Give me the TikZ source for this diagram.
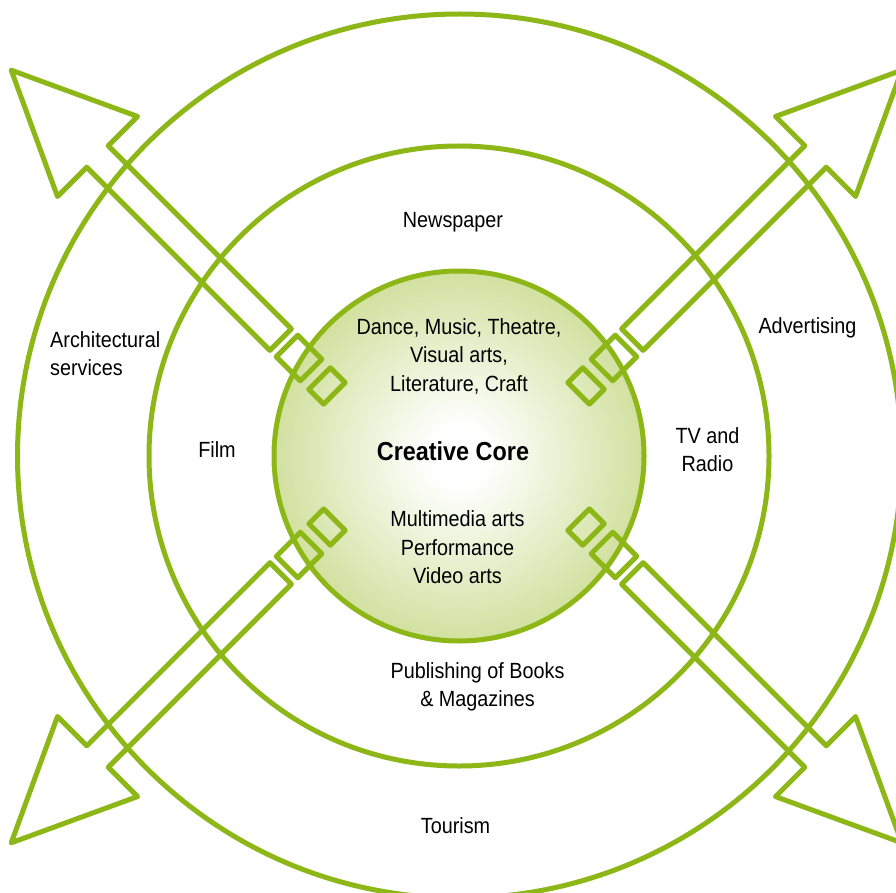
\documentclass[tikz,border=0pt]{standalone}
\usepackage{fontspec}
\setmainfont[FakeStretch=0.9]{Liberation Sans}
\definecolor{lime}{RGB}{141,183,22}
\definecolor{coremid}{RGB}{203,220,145}
\definecolor{coreedge}{RGB}{176,202,96}
\pgfdeclareradialshading{coreshade}{\pgfpoint{0bp}{0bp}}{color(0bp)=(white); color(4bp)=(white); color(28bp)=(coremid); color(50bp)=(coreedge); color(75bp)=(coreedge)}
\newcommand\drawarrowpart{%
  \draw[arrowline] (207,26.5) -- (466,26.5) -- (466,-14.9) -- (588,41.7) -- (466,98.3) -- (466,56.9) -- (207,56.9) -- cycle;
  \draw[arrowline] (164,26.5) -- (198,26.5) -- (198,56.9) -- (164,56.9) -- cycle;
  \draw[arrowline] (131,26.5) -- (152,26.5) -- (152,56.9) -- (131,56.9) -- cycle;
}
\begin{document}
\begin{tikzpicture}[x=1pt,y=-1pt,
  ring/.style={draw=lime, line width=5pt},
  arrowline/.style={draw=lime, line width=5pt, line join=round},
  lbl/.style={inner sep=0pt, font=\fontsize{22}{28.5}\selectfont, align=center, text=black}]
\useasboundingbox (0,0) rectangle (896,893);
\fill[white] (0,0) rectangle (896,893);
% creative core fill
\path[shading=coreshade] (459,456) circle[radius=185];
% rings
\draw[ring] (459.5,456) circle[radius=442];
\draw[ring] (459,456) circle[radius=310];
\draw[ring] (459,456) circle[radius=185];
% arrows
\begin{scope}[shift={(456.5,456.5)}, x={(-0.70711pt,0.70711pt)}, y={(-0.70711pt,-0.70711pt)}]
  \drawarrowpart
\end{scope}
\begin{scope}[shift={(456.5,456.5)}, x={(0.70711pt,0.70711pt)}, y={(0.70711pt,-0.70711pt)}]
  \drawarrowpart
\end{scope}
\begin{scope}[shift={(456.5,456.5)}, x={(-0.70711pt,-0.70711pt)}, y={(-0.70711pt,0.70711pt)}]
  \drawarrowpart
\end{scope}
\begin{scope}[shift={(456.5,456.5)}, x={(0.70711pt,-0.70711pt)}, y={(0.70711pt,0.70711pt)}]
  \drawarrowpart
\end{scope}
% labels
\node[lbl] (news) at (453,222) {Newspaper};
\node[lbl, align=left, anchor=west] (arch) at (50,353.5) {Architectural\\services};
\node[lbl] (film) at (217,450) {Film};
\node[lbl] (core1) at (459,356) {Dance, Music, Theatre,\\Visual arts,\\Literature, Craft};
\node[lbl, font=\fontsize{26}{30}\selectfont\bfseries] (core) at (453,451) {Creative Core};
\node[lbl] (core2) at (457.5,547.5) {Multimedia arts\\Performance\\Video arts};
\node[lbl] (tv) at (707.5,449.5) {TV and\\Radio};
\node[lbl] (adv) at (807.5,328) {Advertising};
\node[lbl] (pub) at (477.5,687) {Publishing of Books\\\& Magazines};
\node[lbl] (tour) at (455.5,826) {Tourism};
\end{tikzpicture}
\end{document}
